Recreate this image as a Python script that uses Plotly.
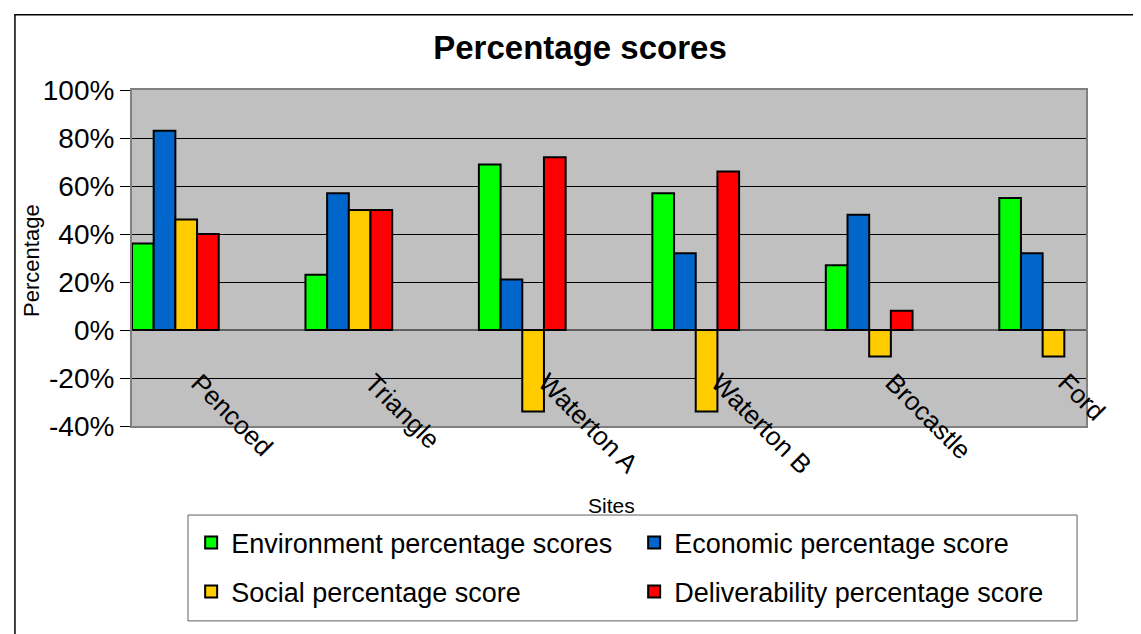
import plotly.graph_objects as go

# site names and scores (percent)
sites = ["Pencoed", "Triangle", "Waterton A", "Waterton B", "Brocastle", "Ford"]
environment = [36, 23, 69, 57, 27, 55]
economic = [83, 57, 21, 32, 48, 32]
social = [46, 50, -34, -34, -11, -11]
deliverability = [40, 50, 72, 66, 8, None]

y_ticks = [-40, -20, 0, 20, 40, 60, 80, 100]
y_tick_text = ["-40%", "-20%", "0%", "20%", "40%", "60%", "80%", "100%"]

FONT = "Liberation Sans, Arial, sans-serif"

# the page body adds an 8px margin, so the figure is drawn 8px smaller
W, H = 1133, 626

# (name, values, colour, legend row)
series = [
    ("Environment percentage scores", environment, "#00FF00", "legend"),
    ("Economic percentage score", economic, "#0066CC", "legend"),
    ("Social percentage score", social, "#FFCC00", "legend2"),
    ("Deliverability percentage score", deliverability, "#FF0000", "legend2"),
]

fig = go.Figure()
for name, vals, colour, leg in series:
    fig.add_trace(go.Bar(
        x=sites, y=vals, name=name, legend=leg,
        marker=dict(color=colour, line=dict(color="black", width=2)),
    ))

# rotated site labels sit inside the plot area, as in the original
for i, s in enumerate(sites):
    fig.add_annotation(
        x=i, y=-14.5, xref="x", yref="y", text=s, showarrow=False,
        textangle=45, xanchor="left", yanchor="top", xshift=7,
        font=dict(family=FONT, size=26, color="black"),
    )

fig.add_annotation(
    x=0.503, y=-0.238, xref="paper", yref="paper", text="Sites",
    showarrow=False, xanchor="center", yanchor="middle",
    font=dict(family=FONT, size=21, color="black"),
)
fig.add_annotation(
    x=-0.106, y=0.5, xref="paper", yref="paper", text="Percentage",
    showarrow=False, textangle=-90, xanchor="center", yanchor="middle",
    yshift=-2, font=dict(family=FONT, size=22, color="black"),
)

# outer chart frame (only top and left edges show in the original crop)
fig.add_shape(
    type="rect", xref="paper", yref="paper",
    x0=-0.1227, y0=1.2237, x1=1.2, y1=-0.7,
    line=dict(color="black", width=1.5), layer="below",
)
# legend frame around both legend rows
fig.add_shape(
    type="rect", xref="paper", yref="paper",
    x0=0.0587, y0=-0.265, x1=0.9906, y1=-0.580,
    line=dict(color="#606060", width=1), fillcolor="white", layer="below",
)

legend_common = dict(
    orientation="h", x=0.062, xanchor="left", yanchor="middle",
    borderwidth=0, bgcolor="rgba(0,0,0,0)",
    font=dict(family=FONT, size=27, color="black"),
    entrywidth=398, entrywidthmode="pixels", traceorder="normal",
)

fig.update_layout(
    width=W, height=H,
    margin=dict(l=124, r=55, t=82, b=208),
    paper_bgcolor="white", plot_bgcolor="#C0C0C0",
    barmode="group", bargap=0.5, bargroupgap=0,
    title=dict(
        text="<b>Percentage scores</b>", x=572 / W, xref="container",
        y=1 - 39 / H, yref="container", xanchor="center", yanchor="middle",
        font=dict(family=FONT, size=33, color="black"),
    ),
    font=dict(family=FONT, color="black"),
    showlegend=True,
    legend=dict(y=-0.348, **legend_common),
    legend2=dict(y=-0.494, **legend_common),
)

fig.update_xaxes(
    range=[-0.25, 5.25], showticklabels=False, ticks="",
    showgrid=False, showline=True, linecolor="#808080", linewidth=2,
    mirror=True, zeroline=False,
)
fig.update_yaxes(
    range=[-40, 100], tickvals=y_ticks, ticktext=y_tick_text,
    ticks="outside", ticklen=10, tickcolor="black",
    tickfont=dict(family=FONT, size=28, color="black"),
    showgrid=True, gridcolor="black", gridwidth=1,
    zeroline=True, zerolinecolor="#606060", zerolinewidth=2,
    showline=True, linecolor="#808080", linewidth=2, mirror=True,
)

fig.write_html("out.html")
